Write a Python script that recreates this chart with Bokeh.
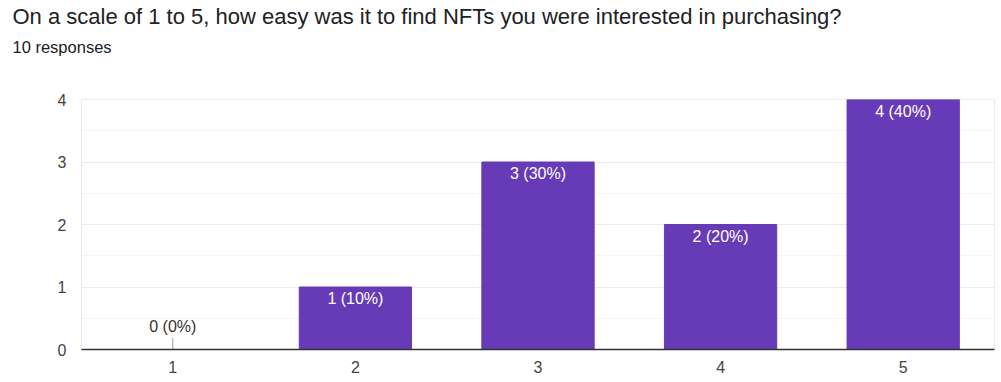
from bokeh.plotting import figure
from bokeh.models import Title, ColumnDataSource, LabelSet, Range1d, FixedTicker
from bokeh.core.properties import value
from bokeh.embed import file_html
from bokeh.resources import INLINE
import math

categories = ["1", "2", "3", "4", "5"]
counts = [0, 1, 3, 2, 4]
total = 10
labels = [f"{c} ({round(c * 100 / total)}%)" for c in counts]
y_ticks = [0, 1, 2, 3, 4]

title_text = "On a scale of 1 to 5, how easy was it to find NFTs you were interested in purchasing?"
subtitle_text = "10 responses"

BAR = "#673ab7"
FONT = "Liberation Sans"

p = figure(x_range=categories, y_range=Range1d(0, 4), width=995, height=375,
           output_backend="svg", toolbar_location=None,
           min_border_left=81, min_border_right=1, min_border_top=99, min_border_bottom=20)
p.title = None

# spacer between subtitle and plot area
spacer = Title(text=" ", text_font_size="1px", standoff=34)
p.add_layout(spacer, "above")
sub = Title(text=subtitle_text, text_font=FONT, text_font_size="16.5px", text_color="#202124",
            text_font_style="normal", offset=-69, standoff=14)
p.add_layout(sub, "above")
main = Title(text=title_text, text_font=FONT, text_font_size="22px", text_color="#202124",
             text_font_style="normal", offset=-69, standoff=0)
p.add_layout(main, "above")

nz = [i for i, c in enumerate(counts) if c > 0]
z = [i for i, c in enumerate(counts) if c == 0]
src_nz = ColumnDataSource(dict(x=[categories[i] for i in nz], top=[counts[i] for i in nz],
                               label=[labels[i] for i in nz]))
src_z = ColumnDataSource(dict(x=[categories[i] for i in z], top=[counts[i] for i in z],
                              label=[labels[i] for i in z]))

p.vbar(x="x", top="top", width=0.615, source=src_nz, fill_color=BAR, line_color=BAR)
p.scatter(x="x", y="top", source=src_z, marker="dash", angle=math.pi / 2, size=23,
          line_color="#9e9e9e", line_width=1)

p.add_layout(LabelSet(x="x", y="top", text="label", source=src_nz, text_align="center",
                      text_baseline="top", y_offset=-3, text_color="white",
                      text_font=value(FONT), text_font_size="16px"))
p.add_layout(LabelSet(x="x", y="top", text="label", source=src_z, text_align="center",
                      text_baseline="bottom", y_offset=15, text_color="#333333",
                      text_font=value(FONT), text_font_size="16px"))

p.outline_line_color = "#ebebeb"
p.xgrid.grid_line_color = None
p.ygrid.grid_line_color = "#ebebeb"
p.ygrid.minor_grid_line_color = "#f5f5f5"
p.yaxis.ticker = FixedTicker(ticks=y_ticks, minor_ticks=[0.5, 1.5, 2.5, 3.5])

for ax in (p.xaxis, p.yaxis):
    ax.major_tick_line_color = None
    ax.minor_tick_line_color = None
    ax.major_tick_out = 0
    ax.major_tick_in = 0
    ax.minor_tick_out = 0
    ax.minor_tick_in = 0
    ax.major_label_text_font = FONT
    ax.major_label_text_font_size = "16px"
    ax.major_label_text_color = "#444444"
p.yaxis.axis_line_color = None
p.yaxis.major_label_standoff = 15
p.xaxis.axis_line_color = "#333333"
p.xaxis.axis_line_width = 1.5
p.xaxis.major_label_standoff = 11
p.x_range.range_padding = 0

open("out.html", "w").write(file_html(p, INLINE))
